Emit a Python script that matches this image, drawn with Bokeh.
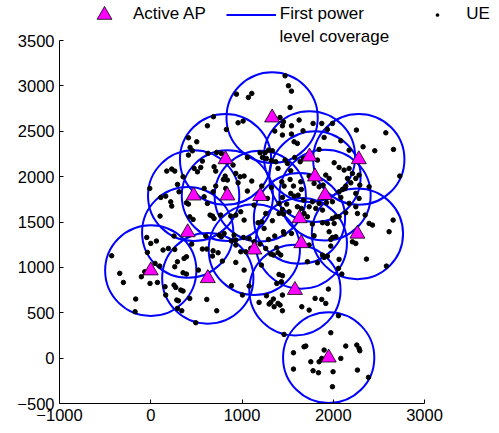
from bokeh.plotting import figure
from bokeh.models import Legend, LegendItem, Label, FixedTicker
from bokeh.embed import file_html
from bokeh.resources import INLINE

# Access points (active APs)
ap_x = [1330, 820, 1740, 2280, 1800, 470, 840, 1200, 1910, 1630, 405, 2265, 1135, 1650, 0, 625, 1580, 1950]
ap_y = [2650, 2190, 2220, 2190, 2000, 1790, 1790, 1785, 1795, 1540, 1385, 1370, 1195, 1265, 965, 880, 750, 5]
coverage_radius = 500

# User equipment positions
ue_x = [
    413, 504, 431, 457, 413, 175, 230, 263, 475, 512, 354, 293, -11, 310, 110, 164, 219, 230, 391, 413, 102, 427, 464,
    1472, 1509, 1542, 939, 1107, 1070, 1527, 1417, 1454, 1443, 1626, 1542, 1012, 957, 687, 621, 829, 1359, 1443, 1542,
    1669, 1571, 1607, 1333, 1198, 1253, 1224, 1268, 1290, 723, 774, 628, 566, 548, 694, 712, 785, 902, 1059, 932,
    979, 1023, 1107, 840, 815, 796, 957, 712, 585, 683, 822, 1059, 1216, 1322, 1322, 1370, 1472, 1395, 1498, 1578,
    1637, 1673, 1534, 1436, 1527, 1644, 1564, 1461, 1651, 1615, 1534, 1571, 1443, 1406, 1490, 1443, 1607, 1516, 1279, 1260,
    1132, 986, 932, 877, 650, 676, 694, 767, 1023, 1176, 1216, 1333, 1242, 1406, 1454, 1673, 1651, 1680, 621, 585,
    1779, 1874, 1936, 1991, 1900, 2083, 2254, 2576, 2327, 2455, 2660, 2174, 1845, 1736, 1827, 2010, 2064, 2119, 2174, 1918,
    1955, 1889, 1845, 1790, 1736, 2210, 2283, 2247, 2156, 2192, 2137, 2101, 2064, 2130, 2291, 2393, 2247, 1772, 1845, 1736,
    1809, 1882, 1925, 1991, 2083, 2174, 2247, 2283, 2265, 2349, 2137, 2064, 2028, 1991, 2010, 1936, 1882, 1772, 1717, 2430,
    2393, 2656, 2729, 1918,
    -44, 0, 62, -428, -37, 135, 193, 263, 449, 255, 47, 98, -66, -103, -340, -300, -8, 73, 292, 365,
    391, 263, 354, 391, 522, 157, 255, 274, 329, 354, 164, 427, 285, 303, -165, -172, 292, 340, 493,
    603, 749, 804, 774, 913, 1016, 932, 884, 1078, 1132, 1198, 1290, 1359, 1461, 1542, 1454, 566, 614, 683, 738,
    676, 785, 932, 986, 1041, 1096, 1260, 1315, 1344, 1395, 1425, 1381, 932, 1023, 1213, 884, 1005, 1078, 1406, 1443,
    1432, 1381, 1443, 1268, 1344, 1315, 1297, 1395, 1417, 1352, 1443, 1187, 614, 723, 1655, 1461, 1680, 1564, 1564,
    1790, 1955, 1991, 2028, 1973, 2210, 2247, 2612, 1973, 1736, 1882, 1900, 1936, 1717, 1827, 2064, 2057, 2094, 2364, 2583,
    1947, 1801, 1874, 1918, 1736, 2057, 1973, 1699, 2137, 2258, 2283, 2291, 1900, 1874, 1845, 1754, 2083, 1779, 1838, 1998,
    2265, 2386, 1991,
]
ue_y = [
    2428, 2384, 2322, 2284, 2237, 2061, 2083, 2061, 2091, 2053, 1998, 1914, 1870, 1833, 1771, 1785, 1722, 1675, 1711, 1697, 1565, 1557, 1528,
    3111, 3001, 2942, 2909, 2917, 2873, 2762, 2652, 2604, 2560, 2623, 2560, 2612, 2593, 2660, 2560, 2520, 2502, 2458, 2469,
    2505, 2384, 2366, 2285, 2263, 2263, 2211, 2200, 2292, 2267, 2256, 2256, 2171, 2101, 2109, 2061, 2171, 2127, 2211, 2035,
    1998, 2006, 1951, 1962, 2006, 1969, 1932, 1896, 1870, 1833, 1870, 1841, 1896, 1881, 2175, 2164, 2182, 2090, 2145, 2211,
    2164, 2200, 2065, 1943, 1969, 1943, 1896, 1896, 1859, 1796, 1815, 1785, 1771, 1705, 1697, 1638, 1668, 1613, 1760, 1594,
    1686, 1613, 1576, 1565, 1576, 1565, 1539, 1576, 1521, 1492, 1503, 1514, 1429, 1594, 1587, 1741, 1650, 1594, 1705, 1778,
    2586, 2586, 2520, 2586, 2432, 2395, 2513, 2483, 2329, 2285, 2300, 2292, 2300, 2256, 2182, 2153, 2101, 2072, 2090, 2017,
    1980, 1907, 1888, 1925, 2006, 2035, 2017, 1980, 1980, 1932, 1896, 1859, 1833, 1870, 1907, 1888, 1815, 1723, 1705, 1668,
    1650, 1631, 1712, 1723, 1771, 1705, 1668, 1760, 1594, 1576, 1602, 1558, 1558, 1539, 1484, 1484, 1492, 1477, 1558, 1466,
    1484, 1521, 2006, 1778,
    1330, 1264, 1290, 1128, 1165, 1191, 1209, 1198, 1257, 1345, 1044, 1014, 952, 897, 934, 834, 823, 834, 1062, 1099,
    1117, 1007, 941, 926, 970, 787, 805, 779, 750, 739, 695, 658, 640, 632, 651, 511, 548, 522, 390,
    1345, 1356, 1374, 1338, 1356, 1330, 1301, 1290, 1319, 1282, 1257, 1308, 1345, 1367, 1374, 1393, 1202, 1202, 1183, 1161,
    1125, 1069, 1246, 1172, 1172, 1209, 1209, 1147, 1136, 1161, 1136, 1216, 1055, 970, 1025, 798, 695, 794, 922, 908,
    842, 823, 695, 687, 651, 614, 596, 603, 585, 566, 522, 614, 647, 522, 566, 261, 125, 59, -121,
    1349, 1393, 1330, 1338, 1308, 1282, 1264, 1393, 1235, 1246, 1135, 1110, 1124, 1062, 1051, 1088, 989, 926, 1091, 1014,
    761, 658, 647, 603, 529, 467, 280, 133, 133, 144, 107, 81, 89, -3, -40, -40, -3, -139, -161, -150,
    -132, -212, -315,
]

x_ticks = [-1000, 0, 1000, 2000, 3000]
y_ticks = [-500, 0, 500, 1000, 1500, 2000, 2500, 3000, 3500]
x_tick_labels = {-1000: "\u22121000"}
y_tick_labels = {-500: "\u2212500"}
x_lim = (-1000, 3000)
y_lim = (-500, 3500)

FONT = "Liberation Sans"
BLUE = "#0000ff"
MAGENTA = "#ff00ff"
NAN = float("nan")

# Layout (pixels): the axes box spans 365 x 363 px; the frame is extended to the
# top/right canvas edges so that the legend above the axes is not clipped.
W, H = 499, 433
LEFT, BOTTOM = 59, 30
AX_W, AX_H = 365, 363
frame_w = W - LEFT
frame_h = H - BOTTOM
x_end = x_lim[0] + (x_lim[1] - x_lim[0]) * frame_w / AX_W
y_end = y_lim[0] + (y_lim[1] - y_lim[0]) * frame_h / AX_H

p = figure(width=W, height=H, x_range=(x_lim[0], x_end), y_range=(y_lim[0], y_end),
           output_backend="svg", toolbar_location=None,
           min_border_left=LEFT, min_border_right=0, min_border_top=0, min_border_bottom=BOTTOM)
p.outline_line_color = None
p.grid.visible = False

for ax in (p.xaxis[0], p.yaxis[0]):
    ax.axis_line_color = "black"
    ax.axis_line_width = 1
    ax.major_tick_in = 4
    ax.major_tick_out = 0
    ax.major_tick_line_color = "black"
    ax.minor_tick_line_color = None
    ax.major_label_text_font = FONT
    ax.major_label_text_font_size = "16.5px"
    ax.major_label_text_color = "black"

p.xaxis.bounds = x_lim
p.yaxis.bounds = y_lim
p.xaxis.ticker = FixedTicker(ticks=x_ticks)
p.yaxis.ticker = FixedTicker(ticks=y_ticks)
p.xaxis.major_label_overrides = x_tick_labels
p.yaxis.major_label_overrides = y_tick_labels
p.xaxis.major_label_standoff = 5
p.yaxis.major_label_standoff = 5

p.ellipse(x=ap_x, y=ap_y, width=2 * coverage_radius, height=2 * coverage_radius,
          fill_color=None, line_color=BLUE, line_width=2)
p.scatter(x=ue_x, y=ue_y, marker="circle", size=4.5, fill_color="black", line_color="black")
aps = p.scatter(x=ap_x, y=ap_y, marker="triangle", size=15, fill_color=MAGENTA,
                line_color="black", line_width=0.8)

# legend-only renderers (no visible data)
leg_line = p.line(x=[NAN, NAN], y=[NAN, NAN], line_color=BLUE, line_width=2)
leg_dot = p.scatter(x=[NAN], y=[NAN], marker="dot", line_color="black", fill_color="black")

legend = Legend(items=[
    LegendItem(label="Active AP", renderers=[aps]),
    LegendItem(label="First power" + "\u00a0" * 6, renderers=[leg_line]),
    LegendItem(label="UE", renderers=[leg_dot]),
], orientation="horizontal", location=(20, frame_h - 32.5), glyph_width=50, glyph_height=37,
    label_standoff=4, spacing=20, padding=0, border_line_color=None,
    background_fill_alpha=0, label_text_font=FONT, label_text_font_size="17px",
    label_text_color="black")
p.add_layout(legend)

p.add_layout(Label(x=220, y=frame_h - 36, x_units="screen", y_units="screen", text="level coverage",
                   text_font=FONT, text_font_size="17px", text_baseline="alphabetic",
                   text_color="black"))

open("out.html", "w").write(file_html(p, INLINE))
